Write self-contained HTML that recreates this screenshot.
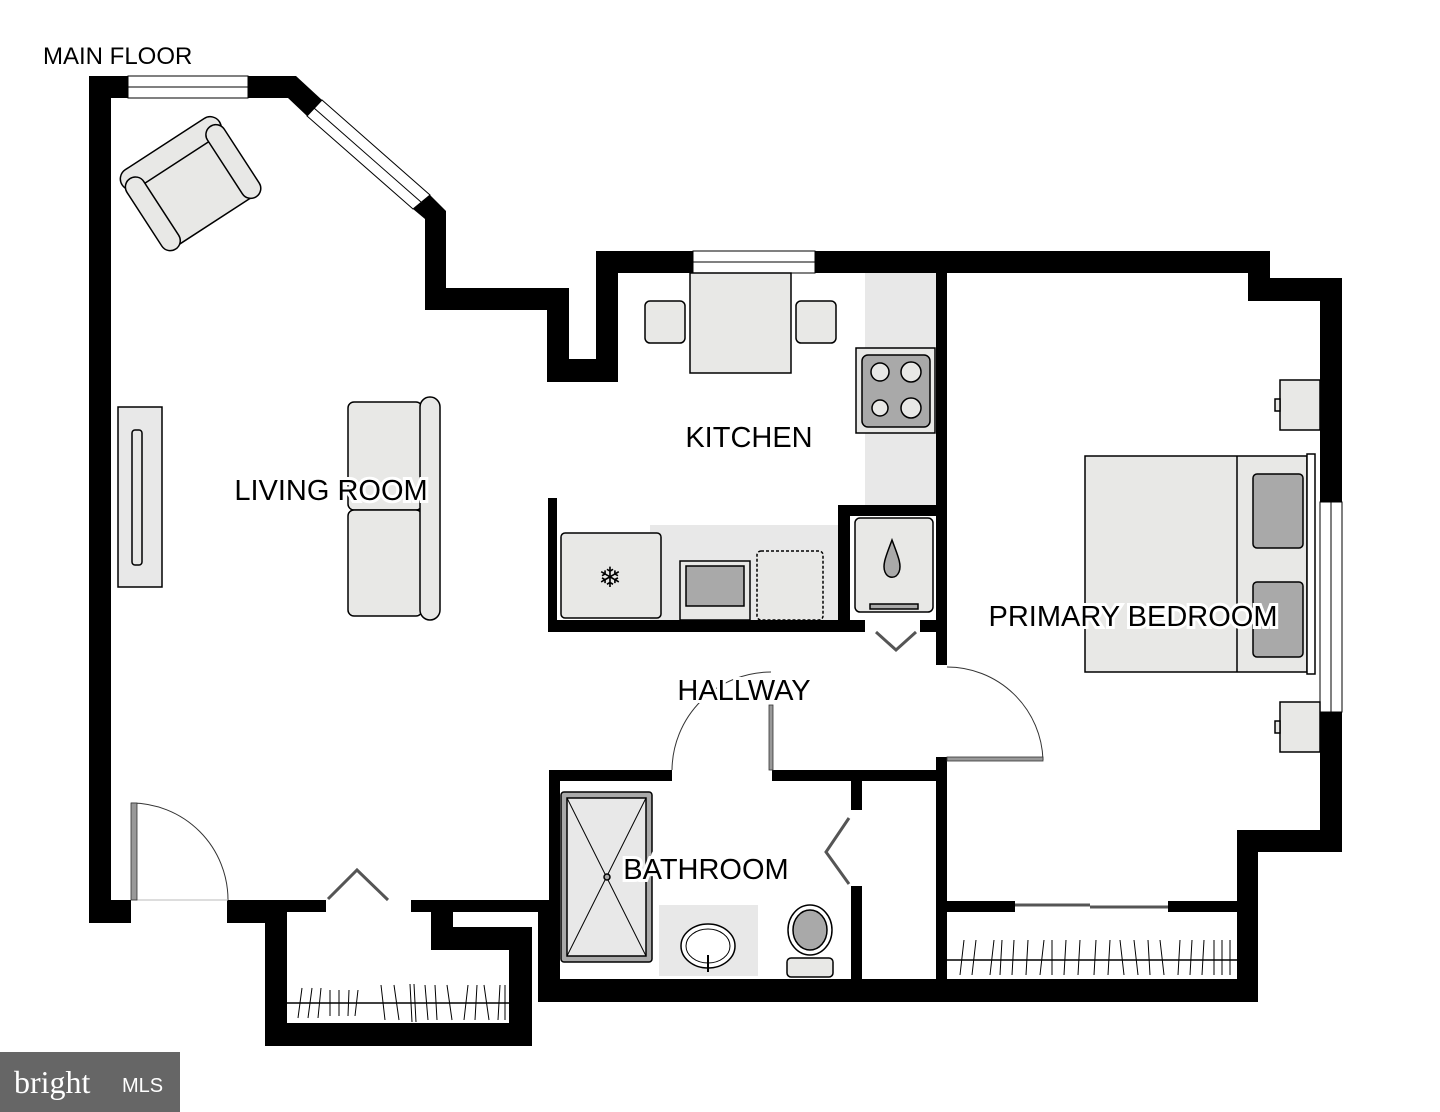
<!DOCTYPE html>
<html><head><meta charset="utf-8"><style>
html,body{margin:0;padding:0;background:#fff}
svg{display:block}
text{font-family:"Liberation Sans","DejaVu Sans",sans-serif;fill:#000}
</style></head><body>
<svg width="1440" height="1112" viewBox="0 0 1440 1112" xmlns="http://www.w3.org/2000/svg">
<rect width="1440" height="1112" fill="#fff"/>
<text x="43" y="64" font-size="24">MAIN FLOOR</text>

<rect x="865" y="273" width="71" height="232" fill="#e8e8e8"/>
<rect x="650" y="525" width="188" height="95" fill="#e8e8e8"/>

<g fill="#000">
<rect x="89" y="76" width="22" height="847"/>
<rect x="89" y="76" width="39" height="22"/>
<polygon points="248,76 296,76 322,100 307,116 288,98 248,98"/>
<polygon points="430,195 446,211 446,288 569,288 569,359 596,359 596,251 693,251 693,273 618,273 618,382 547,382 547,310 425,310 425,219 413,209"/>
<rect x="815" y="251" width="455" height="22"/>
<polygon points="1248,251 1270,251 1270,278 1342,278 1342,502 1320,502 1320,301 1248,301"/>
<rect x="1320" y="712" width="22" height="140"/>
<rect x="1237" y="830" width="105" height="22"/>
<rect x="1237" y="830" width="21" height="172"/>
<rect x="538" y="979" width="720" height="23"/>
<rect x="936" y="273" width="11" height="392"/>
<rect x="936" y="757" width="11" height="228"/>
<rect x="947" y="901" width="68" height="11"/>
<rect x="1168" y="901" width="69" height="11"/>
<rect x="549" y="770" width="123" height="11"/>
<rect x="772" y="770" width="164" height="11"/>
<rect x="851" y="781" width="11" height="29"/>
<rect x="851" y="886" width="11" height="93"/>
<rect x="548" y="498" width="9" height="134"/>
<rect x="548" y="620" width="317" height="12"/>
<rect x="838" y="505" width="12" height="127"/>
<rect x="838" y="505" width="98" height="11"/>
<rect x="920" y="620" width="16" height="12"/>
<rect x="89" y="900" width="42" height="23"/>
<rect x="227" y="900" width="99" height="12"/>
<rect x="227" y="900" width="38" height="23"/>
<rect x="265" y="900" width="22" height="146"/>
<rect x="265" y="1023" width="267" height="23"/>
<rect x="509" y="927" width="23" height="119"/>
<rect x="431" y="927" width="101" height="23"/>
<rect x="431" y="900" width="22" height="50"/>
<rect x="411" y="900" width="138" height="12"/>
<rect x="538" y="900" width="11" height="102"/>
<rect x="549" y="770" width="11" height="209"/>
</g>

<g fill="#fff" stroke="#000" stroke-width="1">
<rect x="128" y="76" width="120" height="22"/>
<line x1="128" y1="87" x2="248" y2="87"/>
<rect x="693" y="251" width="122" height="22"/>
<line x1="693" y1="262" x2="815" y2="262"/>
<polygon points="322,100 430,195 413,209 307,116"/>
<line x1="314" y1="108" x2="421" y2="202"/>
<rect x="1320" y="502" width="22" height="210"/>
<line x1="1331" y1="502" x2="1331" y2="712"/>
</g>

<g fill="none" stroke="#333" stroke-width="1">
<path d="M131,803 A97,97 0 0 1 228,900"/>
<line x1="131" y1="900" x2="228" y2="900" stroke="#bbb"/>
<path d="M947,667 A96,96 0 0 1 1043,760"/>
<path d="M672,770 A99,99 0 0 1 771,672"/>
</g>
<rect x="131" y="803" width="6" height="97" fill="#999" stroke="#333" stroke-width="0.8"/>
<rect x="947" y="757" width="96" height="4" fill="#999" stroke="#333" stroke-width="0.8"/>
<rect x="769" y="705" width="4" height="65" fill="#999" stroke="#333" stroke-width="0.8"/>
<g fill="none" stroke="#555" stroke-width="3">
<polyline points="328,899 357,870 388,900"/>
<polyline points="876,632 896,650 916,632"/>
<polyline points="849,818 826,852 849,884"/>
<line x1="1015" y1="905" x2="1090" y2="905"/>
<line x1="1090" y1="907" x2="1168" y2="907"/>
</g>

<g stroke="#000" stroke-width="1.5">
<line x1="287" y1="1003" x2="509" y2="1003"/>
<line x1="947" y1="960" x2="1237" y2="960"/>
</g>
<g stroke="#000" stroke-width="1">
<path d="M298,1018 L302,988 M308,1018 L312,988 M318,1018 L321,988 M330,1016 L330,990 M339,1016 L339,990 M348,1016 L349,990 M355,1016 L358,990 M385,1020 L381,985 M399,1020 L394,985 M412,1022 L410,984 M416,1022 L414,984 M428,1020 L425,985 M437,1020 L435,985 M452,1020 L447,985 M464,1020 L468,985 M475,1020 L477,985 M489,1020 L484,985 M498,1020 L500,985 M505,1020 L505,985"/>
<path d="M960,975 L964,940 M972,975 L976,940 M990,975 L994,940 M1000,975 L1002,940 M1012,975 L1014,940 M1026,975 L1028,940 M1040,975 L1044,940 M1052,975 L1052,940 M1064,975 L1066,940 M1078,975 L1080,940 M1094,975 L1096,940 M1108,975 L1110,940 M1124,975 L1120,940 M1138,975 L1134,940 M1150,975 L1148,940 M1164,975 L1160,940 M1178,975 L1180,940 M1190,975 L1192,940 M1202,975 L1204,940 M1214,975 L1214,940 M1222,975 L1222,940 M1230,975 L1230,940"/>
</g>

<g stroke="#000" stroke-width="1.5" fill="#e8e8e6">
<g transform="rotate(-33 192 186)">
<rect x="142" y="146" width="100" height="82" rx="6"/>
<rect x="134" y="136" width="116" height="22" rx="11"/>
<rect x="134" y="146" width="20" height="84" rx="10"/>
<rect x="230" y="146" width="20" height="84" rx="10"/>
</g>
<rect x="348" y="402" width="74" height="108" rx="6"/>
<rect x="348" y="510" width="74" height="106" rx="6"/>
<rect x="420" y="397" width="20" height="223" rx="10"/>
<rect x="118" y="407" width="44" height="180" fill="#e8e8e8"/>
<rect x="132" y="430" width="10" height="135" rx="3"/>
<rect x="690" y="273" width="101" height="100"/>
<rect x="645" y="301" width="40" height="42" rx="5"/>
<rect x="796" y="301" width="40" height="42" rx="5"/>
<rect x="856" y="348" width="79" height="85"/>
<rect x="862" y="355" width="68" height="72" rx="6" fill="#a9a9a9"/>
<circle cx="880" cy="372" r="9"/><circle cx="911" cy="372" r="10"/>
<circle cx="880" cy="408" r="8"/><circle cx="911" cy="408" r="10"/>
<rect x="561" y="533" width="100" height="85" rx="4"/>
<rect x="680" y="561" width="70" height="59"/>
<rect x="686" y="566" width="58" height="40" fill="#a9a9a9"/>
<rect x="757" y="551" width="66" height="69" rx="4" stroke-dasharray="3,2"/>
<rect x="855" y="518" width="78" height="94" rx="5"/>
<path d="M892,540 C886,556 882,565 885,572 C888,579 896,579 899,572 C902,565 898,556 892,540Z" fill="#a9a9a9"/>
<rect x="870" y="604" width="48" height="5" fill="#a9a9a9"/>
<rect x="1085" y="456" width="222" height="216"/>
<line x1="1237" y1="456" x2="1237" y2="672"/>
<rect x="1253" y="474" width="50" height="74" rx="4" fill="#a9a9a9"/>
<rect x="1253" y="582" width="50" height="75" rx="4" fill="#a9a9a9"/>
<rect x="1307" y="454" width="8" height="220" fill="#fff"/>
<rect x="1280" y="380" width="40" height="50"/>
<rect x="1275" y="399" width="5" height="12"/>
<rect x="1280" y="702" width="40" height="50"/>
<rect x="1275" y="721" width="5" height="12"/>
<rect x="561" y="792" width="91" height="170" rx="3" fill="#a9a9a9"/>
<rect x="567" y="798" width="79" height="158" fill="#e8e8e8"/>
<line x1="567" y1="798" x2="646" y2="956" stroke-width="1"/>
<line x1="646" y1="798" x2="567" y2="956" stroke-width="1"/>
<circle cx="607" cy="877" r="3" fill="#a9a9a9"/>
<ellipse cx="810" cy="930" rx="22" ry="25" fill="#fff"/>
<ellipse cx="810" cy="930" rx="17" ry="20" fill="#a9a9a9"/>
<rect x="787" y="958" width="46" height="19" rx="4"/>
</g>
<rect x="659" y="905" width="99" height="71" fill="#e8e8e8"/>
<ellipse cx="708" cy="946" rx="27" ry="22" fill="#fff" stroke="#000" stroke-width="1.5"/>
<ellipse cx="708" cy="946" rx="22" ry="17" fill="none" stroke="#000" stroke-width="1"/>
<line x1="708" y1="955" x2="708" y2="972" stroke="#000" stroke-width="2"/>
<text x="610" y="587" font-size="28" text-anchor="middle">❄</text>

<g font-size="29">
<text x="331" y="500" text-anchor="middle" style="paint-order:stroke" stroke="#fff" stroke-width="6">LIVING ROOM</text>
<text x="749" y="447" text-anchor="middle">KITCHEN</text>
<text x="1133" y="626" text-anchor="middle" style="paint-order:stroke" stroke="#fff" stroke-width="6">PRIMARY BEDROOM</text>
<text x="744" y="700" text-anchor="middle" style="paint-order:stroke" stroke="#fff" stroke-width="6">HALLWAY</text>
<text x="706" y="879" text-anchor="middle" style="paint-order:stroke" stroke="#fff" stroke-width="6">BATHROOM</text>
</g>

<rect x="0" y="1052" width="180" height="60" fill="#666"/>
<text x="14" y="1093" font-size="32" style="fill:#fff;font-family:'Liberation Serif',serif">bright</text>
<text x="122" y="1092" font-size="20" style="fill:#fff">MLS</text>
</svg>
</body></html>
